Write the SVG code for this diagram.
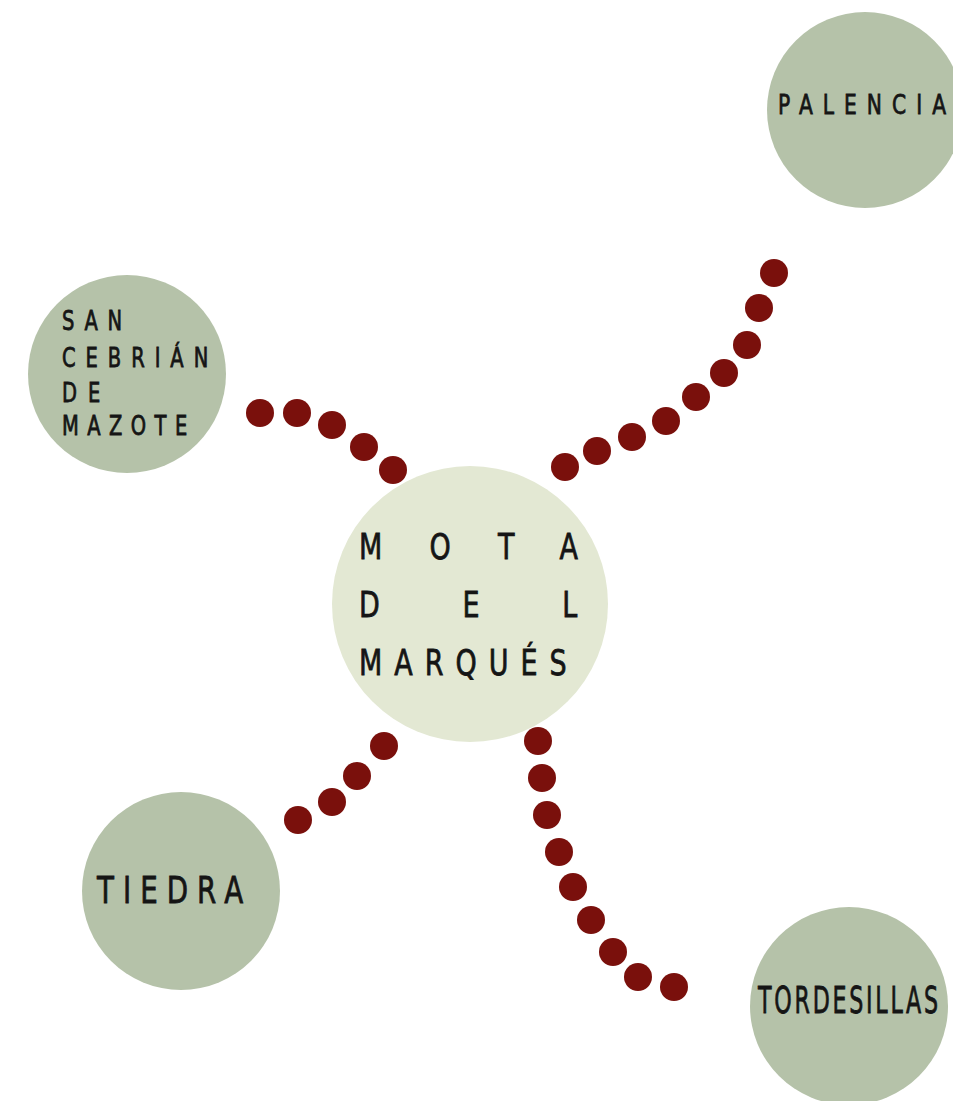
<svg xmlns="http://www.w3.org/2000/svg" width="953" height="1101" viewBox="0 0 953 1101">
<style>
.town{fill:#b5c2a9}
.center{fill:#e3e8d3}
.dot{fill:#7a100c}
.lbl{font-family:"DejaVu Sans",sans-serif;font-weight:normal;fill:#151515;stroke:#151515;stroke-width:0.8}
</style>
<rect width="953" height="1101" fill="#ffffff"/>
<g id="connectors">
<g id="link-palencia">
<circle class="dot" cx="774" cy="273" r="14"/>
<circle class="dot" cx="759" cy="308" r="14"/>
<circle class="dot" cx="747" cy="345" r="14"/>
<circle class="dot" cx="724" cy="373" r="14"/>
<circle class="dot" cx="696" cy="397" r="14"/>
<circle class="dot" cx="666" cy="421" r="14"/>
<circle class="dot" cx="632" cy="437" r="14"/>
<circle class="dot" cx="597" cy="451" r="14"/>
<circle class="dot" cx="565" cy="467" r="14"/>
</g>
<g id="link-sancebrian">
<circle class="dot" cx="260" cy="413" r="14"/>
<circle class="dot" cx="297" cy="413" r="14"/>
<circle class="dot" cx="332" cy="425" r="14"/>
<circle class="dot" cx="364" cy="447" r="14"/>
<circle class="dot" cx="393" cy="470" r="14"/>
</g>
<g id="link-tiedra">
<circle class="dot" cx="298" cy="820" r="14"/>
<circle class="dot" cx="332" cy="802" r="14"/>
<circle class="dot" cx="357" cy="776" r="14"/>
<circle class="dot" cx="384" cy="746" r="14"/>
</g>
<g id="link-tordesillas">
<circle class="dot" cx="538" cy="741" r="14"/>
<circle class="dot" cx="542" cy="778" r="14"/>
<circle class="dot" cx="547" cy="815" r="14"/>
<circle class="dot" cx="559" cy="852" r="14"/>
<circle class="dot" cx="573" cy="887" r="14"/>
<circle class="dot" cx="591" cy="920" r="14"/>
<circle class="dot" cx="613" cy="952" r="14"/>
<circle class="dot" cx="638" cy="977" r="14"/>
<circle class="dot" cx="674" cy="987" r="14"/>
</g>
</g>
<g id="node-palencia">
<circle class="town" cx="865" cy="110" r="98"/>
<text class="lbl" transform="translate(778,114) scale(0.75,1)" x="0" y="0" font-size="27" textLength="224" lengthAdjust="spacing">PALENCIA</text>
</g>
<g id="node-sancebrian">
<circle class="town" cx="127" cy="374" r="99"/>
<g transform="translate(62,0) scale(0.75,1)">
<text class="lbl" x="0" y="330" font-size="26" textLength="80" lengthAdjust="spacing">SAN</text>
<text class="lbl" x="0" y="367" font-size="26" textLength="195" lengthAdjust="spacing">CEBRIÁN</text>
<text class="lbl" x="0" y="402" font-size="26" textLength="51" lengthAdjust="spacing">DE</text>
<text class="lbl" x="0" y="435" font-size="26" textLength="167" lengthAdjust="spacing">MAZOTE</text>
</g>
</g>
<g id="node-mota">
<circle class="center" cx="470" cy="604" r="138"/>
<g transform="translate(359,0) scale(0.75,1)">
<text class="lbl" x="0" y="559" font-size="36" textLength="292" lengthAdjust="spacing">MOTA</text>
<text class="lbl" x="0" y="617" font-size="36" textLength="291" lengthAdjust="spacing">DEL</text>
<text class="lbl" x="0" y="675" font-size="36" textLength="277" lengthAdjust="spacing">MARQUÉS</text>
</g>
</g>
<g id="node-tiedra">
<circle class="town" cx="181" cy="891" r="99"/>
<text class="lbl" transform="translate(97,903) scale(0.75,1)" x="0" y="0" font-size="37" textLength="195" lengthAdjust="spacing">TIEDRA</text>
</g>
<g id="node-tordesillas">
<circle class="town" cx="849" cy="1006" r="99"/>
<text class="lbl" transform="translate(758,1013) scale(0.6,1)" x="0" y="0" font-size="37" textLength="300" lengthAdjust="spacing">TORDESILLAS</text>
</g>
</svg>
